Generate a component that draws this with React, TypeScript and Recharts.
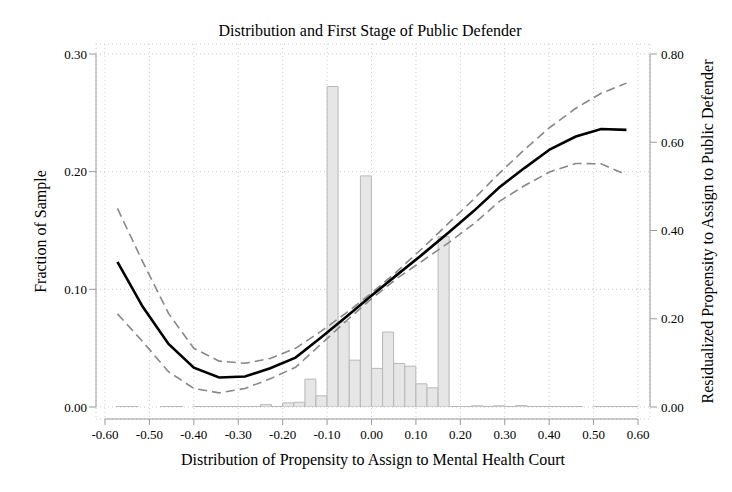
import { Bar, CartesianGrid, ComposedChart, Line, XAxis, YAxis } from "recharts";

// histogram of the mental-health-court propensity, bins of 0.025
const binStarts = [
  -0.6, -0.575, -0.55, -0.525, -0.5, -0.475, -0.45, -0.425, -0.4, -0.375, -0.35, -0.325,
  -0.3, -0.275, -0.25, -0.225, -0.2, -0.175, -0.15, -0.125, -0.1, -0.075, -0.05, -0.025,
  0, 0.025, 0.05, 0.075, 0.1, 0.125, 0.15, 0.175, 0.2, 0.225, 0.25, 0.275,
  0.3, 0.325, 0.35, 0.375, 0.4, 0.425, 0.45, 0.475, 0.5, 0.525, 0.55, 0.575,
];
const binFractions = [
  0, 0.0004, 0.0004, 0, 0, 0.0004, 0.0004, 0, 0.0004, 0.0004, 0.0004, 0.0004,
  0.0004, 0.0005, 0.002, 0.0005, 0.0035, 0.004, 0.0237, 0.0095, 0.2724, 0.0724, 0.0398, 0.1964,
  0.0328, 0.0637, 0.037, 0.0347, 0.0197, 0.0163, 0.1448, 0.0004, 0.0004, 0.001, 0.0005, 0.001,
  0.0005, 0.0012, 0.0005, 0.0005, 0.0005, 0.0004, 0.0004, 0, 0.0004, 0.0004, 0.0004, 0.0004,
];

// first stage: residualized public defender propensity with 95% band
const fitX = [
  -0.572, -0.515, -0.457, -0.4, -0.343, -0.285, -0.228, -0.171, -0.113, -0.056, 0.001,
  0.058, 0.116, 0.173, 0.23, 0.288, 0.345, 0.402, 0.46, 0.517, 0.574,
];
const fitY = [
  0.329, 0.227, 0.143, 0.089, 0.067, 0.069, 0.088, 0.112, 0.158, 0.205, 0.253,
  0.3, 0.347, 0.395, 0.444, 0.498, 0.542, 0.584, 0.613, 0.63, 0.628,
];
const ciUpper = [
  0.45, 0.329, 0.212, 0.133, 0.104, 0.099, 0.11, 0.133, 0.172, 0.214, 0.259,
  0.308, 0.361, 0.416, 0.471, 0.53, 0.584, 0.634, 0.677, 0.711, 0.734,
];
const ciLower = [
  0.211, 0.148, 0.08, 0.042, 0.032, 0.042, 0.064, 0.09, 0.143, 0.196, 0.246,
  0.292, 0.332, 0.372, 0.415, 0.466, 0.502, 0.533, 0.552, 0.551, 0.526,
];

const xTicks = [-0.6, -0.5, -0.4, -0.3, -0.2, -0.1, 0, 0.1, 0.2, 0.3, 0.4, 0.5, 0.6];
const fracTicks = [0, 0.1, 0.2, 0.3];
const propTicks = [0, 0.2, 0.4, 0.6, 0.8];

const histData = binStarts.map((bin, i) => ({ bin, fraction: binFractions[i] }));
const fitData = fitX.map((x, i) => ({ x, fit: fitY[i], upper: ciUpper[i], lower: ciLower[i] }));

const FONT = '"Liberation Serif", "Times New Roman", serif';
const AXIS = "#9a9a9a";
const tickStyle = { fill: "#000", fontSize: 13, fontFamily: FONT };
const fmt = (v: number) => v.toFixed(2);

// Stata-style offset axes: plot region is padded, axis lines only span the tick range
const xPad = { left: 9, right: 12 };
const yPad = { top: 10, bottom: 12 };

export default function App() {
  return (
    <div
      style={{
        position: "absolute",
        left: 0,
        top: 0,
        width: 732,
        height: 492,
        background: "#fff",
        fontFamily: FONT,
      }}
    >
      <div
        style={{
          position: "absolute",
          left: 96,
          width: 548,
          top: 22,
          textAlign: "center",
          fontSize: 16,
          lineHeight: "18px",
          color: "#000",
        }}
      >
        Distribution and First Stage of Public Defender
      </div>
      <ComposedChart
        width={732}
        height={492}
        data={histData}
        margin={{ top: 44, right: 0, bottom: 0, left: 0 }}
        barCategoryGap={0}
      >
        <XAxis
          xAxisId="fit"
          dataKey="x"
          type="number"
          domain={[-0.6, 0.6]}
          ticks={xTicks}
          allowDataOverflow
          padding={xPad}
          height={73}
          tickFormatter={fmt}
          tick={tickStyle}
          tickSize={6}
          tickMargin={5}
          tickLine={{ stroke: AXIS }}
          axisLine={{ stroke: AXIS, strokeDasharray: "0 9 533 1000" }}
          label={{
            value: "Distribution of Propensity to Assign to Mental Health Court",
            position: "insideBottom",
            offset: 27,
            style: { fill: "#000", fontSize: 16, fontFamily: FONT },
          }}
        />
        {/* bins get their own band axis so the bars fill each 0.025 bin */}
        <XAxis
          xAxisId="bins"
          dataKey="bin"
          type="category"
          orientation="top"
          height={0}
          hide
          padding={xPad}
        />
        <YAxis
          yAxisId="frac"
          type="number"
          domain={[0, 0.3]}
          ticks={fracTicks}
          allowDataOverflow
          padding={yPad}
          width={96}
          tickFormatter={fmt}
          tick={tickStyle}
          tickSize={7}
          tickMargin={2}
          tickLine={{ stroke: AXIS }}
          axisLine={{ stroke: AXIS, strokeDasharray: "0 10 353 1000" }}
          label={{
            value: "Fraction of Sample",
            angle: -90,
            position: "insideLeft",
            offset: 40,
            style: { textAnchor: "middle", fill: "#000", fontSize: 16, fontFamily: FONT },
          }}
        />
        <YAxis
          yAxisId="prop"
          orientation="right"
          type="number"
          domain={[0, 0.8]}
          ticks={propTicks}
          allowDataOverflow
          padding={yPad}
          width={82}
          tickFormatter={fmt}
          tick={tickStyle}
          tickSize={7}
          tickMargin={4}
          tickLine={{ stroke: AXIS }}
          axisLine={{ stroke: AXIS, strokeDasharray: "0 10 353 1000" }}
          label={{
            value: "Residualized Propensity to Assign to Public Defender",
            angle: -90,
            position: "insideRight",
            offset: 25,
            style: { textAnchor: "middle", fill: "#000", fontSize: 16, fontFamily: FONT },
          }}
        />
        <CartesianGrid xAxisId="fit" yAxisId="frac" stroke="#cccccc" strokeDasharray="1 3" />
        <Bar
          xAxisId="bins"
          yAxisId="frac"
          dataKey="fraction"
          fill="#e6e6e6"
          stroke="#b8b8b8"
          strokeWidth={1}
          isAnimationActive={false}
        />
        <Line
          xAxisId="fit"
          yAxisId="prop"
          data={fitData}
          dataKey="upper"
          type="linear"
          stroke="#888"
          strokeWidth={1.6}
          strokeDasharray="9 5"
          dot={false}
          isAnimationActive={false}
        />
        <Line
          xAxisId="fit"
          yAxisId="prop"
          data={fitData}
          dataKey="lower"
          type="linear"
          stroke="#888"
          strokeWidth={1.6}
          strokeDasharray="9 5"
          dot={false}
          isAnimationActive={false}
        />
        <Line
          xAxisId="fit"
          yAxisId="prop"
          data={fitData}
          dataKey="fit"
          type="linear"
          stroke="#000"
          strokeWidth={2.6}
          dot={false}
          isAnimationActive={false}
        />
      </ComposedChart>
    </div>
  );
}
